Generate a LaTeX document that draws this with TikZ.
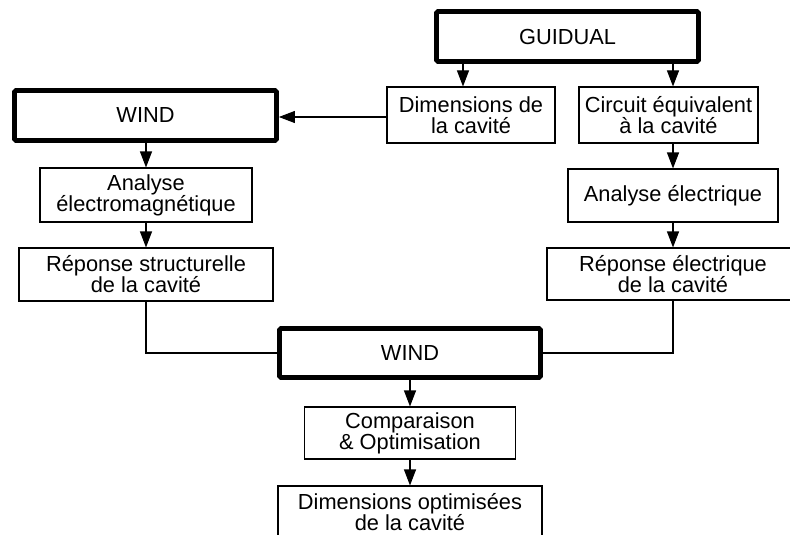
\documentclass[tikz,border=0pt]{standalone}
\usepackage{fontspec}
\setmainfont{Liberation Sans}
\usepackage{tikz}
\usetikzlibrary{arrows.meta}

\begin{document}
\begin{tikzpicture}[x=1pt, y=-1pt, >={Triangle[length=16pt,width=12pt]},
    box/.style={draw, line width=1.1pt, inner sep=0pt, align=center,
        font=\fontsize{21.8}{21}\selectfont},
    toolbox/.style={box, line width=4.8pt, rounded corners=1.5pt},
    link/.style={line width=1.1pt}]
    \clip (0,0) rectangle (790,535);

    % Tools
    \node[toolbox, minimum width=262pt, minimum height=50pt] (guidual) at (567.5,36.5) {GUIDUAL};
    \node[toolbox, minimum width=262pt, minimum height=50pt] (windA) at (145.5,115.5) {WIND};
    \node[toolbox, minimum width=261pt, minimum height=49pt] (windB) at (410,353) {WIND};

    % GUIDUAL outputs
    \node[box, minimum width=168pt, minimum height=56pt] (dimcav) at (471,115) {Dimensions de\\la cavité};
    \node[box, minimum width=179pt, minimum height=56pt] (circuit) at (668.5,115) {Circuit équivalent\\à la cavité};

    % Left branch
    \node[box, minimum width=212pt, minimum height=54pt] (analyseem) at (146,195) {Analyse\\électromagnétique};
    \node[box, minimum width=254pt, minimum height=53pt] (repstruct) at (146,274.5) {Réponse structurelle\\de la cavité};

    % Right branch
    \node[box, minimum width=210pt, minimum height=53pt] (analyseelec) at (673,195.5) {Analyse électrique};
    \node[box, minimum width=252pt, minimum height=52pt] (repelec) at (673,274) {Réponse électrique\\de la cavité};

    % Result
    \node[box, minimum width=211pt, minimum height=52pt] (compar) at (410,433) {Comparaison\\\& Optimisation};
    \node[box, minimum width=264pt, minimum height=52pt] (dimopt) at (410,512) {Dimensions optimisées\\de la cavité};

    % Arrows
    \draw[->, link] ([xshift=-8pt]dimcav.north |- guidual.south) -- ([xshift=-8pt]dimcav.north);
    \draw[->, link] (analyseelec.north |- guidual.south) -- (analyseelec.north |- circuit.north);
    \draw[->, link] ([yshift=-2pt]dimcav.west) -- ([yshift=-2pt]dimcav.west -| windA.east);
    \draw[->, link] (windA.south -| analyseem.north) -- (analyseem.north);
    \draw[->, link] (analyseem.south) -- (repstruct.north);
    \draw[->, link] (analyseelec.north |- circuit.south) -- (analyseelec.north);
    \draw[->, link] (analyseelec.south) -- (repelec.north);
    \draw[link] (repstruct.south) |- (windB.west);
    \draw[link] (repelec.south) |- (windB.east);
    \draw[->, link] (windB.south) -- (compar.north);
    \draw[->, link] (compar.south) -- (dimopt.north);
\end{tikzpicture}
\end{document}
